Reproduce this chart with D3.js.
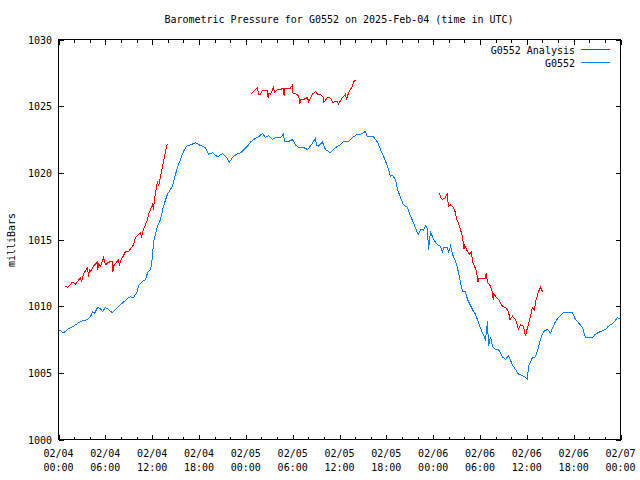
<!DOCTYPE html>
<html><head><meta charset="utf-8">
<script src="https://cdn.jsdelivr.net/npm/d3@7"></script>
<style>body{margin:0;background:#fff}svg text{font-family:"DejaVu Sans Mono","Liberation Mono",monospace;font-size:10px;fill:#000}</style>
</head><body><svg id="c" width="640" height="480"></svg>
<script>
const title = "Barometric Pressure for G0552 on 2025-Feb-04 (time in UTC)";
const yLabel = "milliBars";
const seriesNames = ["G0552 Analysis", "G0552"];
const yTicks = [1000, 1005, 1010, 1015, 1020, 1025, 1030];
const startTime = "2025-02-04T00:00:00Z";
// hours since start, pressure (mb)
const stationHours = [0,0.38,0.64,1.28,1.92,2.82,3.72,4.1,4.36,4.61,5.0,5.38,5.64,6.02,6.4,6.92,7.3,7.69,8.33,8.97,9.22,9.61,10.12,10.25,10.76,11.15,11.4,11.79,12.04,12.17,12.43,12.68,13.07,13.45,13.96,14.35,14.6,14.99,15.37,15.63,16.01,16.4,16.91,17.55,18.19,18.83,19.22,19.73,20.37,21.01,21.52,21.9,22.29,22.8,23.32,23.83,24.21,24.6,24.98,25.62,26.13,26.52,26.9,27.41,27.8,28.44,28.82,28.95,29.47,29.98,30.36,30.75,31.39,31.9,32.28,32.67,32.92,33.05,33.31,33.82,34.2,34.85,35.23,35.74,36.13,36.51,37.15,37.79,38.3,38.69,39.33,39.58,40.35,40.87,41.25,41.64,42.15,42.53,42.79,43.17,43.43,43.81,44.2,44.71,45.09,45.48,45.99,46.12,46.38,46.76,47.02,47.27,47.4,47.66,48.04,48.55,48.94,49.19,49.32,49.83,49.96,50.22,50.47,50.86,51.11,51.24,51.5,51.75,52.14,52.4,52.78,53.17,53.42,53.81,54.32,54.7,54.96,55.09,55.34,55.6,55.98,56.37,56.88,57.26,57.65,58.16,58.55,58.93,59.44,59.83,60.08,60.21,60.72,61.11,61.49,61.75,62.13,62.64,63.03,63.67,64.05,64.69,65.33,65.85,66.23,66.62,67.13,67.51,67.9,68.41,68.79,69.43,70.07,70.46,71.1,71.61,72.0];
const stationValues = [1008.25,1008.1,1008.0,1008.3,1008.5,1008.85,1009.0,1009.2,1009.6,1009.45,1009.9,1009.8,1009.6,1009.9,1009.75,1009.5,1009.75,1010.0,1010.3,1010.65,1010.7,1010.65,1011.1,1011.55,1011.85,1012.0,1012.5,1012.75,1013.65,1014.8,1015.45,1016.0,1016.5,1017.5,1018.4,1018.75,1019.0,1019.9,1020.6,1021.0,1021.6,1022.0,1022.1,1022.25,1022.05,1021.9,1021.4,1021.5,1021.2,1021.45,1021.15,1020.8,1021.15,1021.4,1021.5,1021.8,1022.0,1022.3,1022.5,1022.7,1022.95,1022.65,1022.8,1022.5,1022.65,1022.65,1022.9,1022.35,1022.35,1022.5,1022.1,1021.9,1021.9,1021.75,1022.0,1022.35,1022.6,1022.05,1022.0,1022.3,1021.75,1021.5,1021.75,1022.0,1022.1,1022.35,1022.35,1022.7,1022.9,1022.9,1023.1,1022.7,1022.7,1022.3,1021.75,1021.25,1020.5,1019.75,1019.8,1019.5,1018.75,1018.15,1017.6,1017.4,1016.75,1016.25,1015.5,1015.4,1015.75,1015.7,1016.0,1015.85,1014.25,1015.6,1015.0,1014.6,1014.5,1014.0,1014.4,1014.4,1014.0,1014.5,1013.9,1013.35,1012.9,1012.5,1011.8,1011.1,1011.1,1010.5,1010.05,1009.6,1009.4,1008.75,1008.0,1007.5,1008.85,1007.0,1007.7,1007.0,1006.75,1006.75,1006.2,1006.0,1006.3,1005.6,1005.25,1004.9,1004.8,1004.65,1004.5,1005.5,1006.15,1006.2,1006.9,1007.5,1008.1,1008.25,1008.0,1008.85,1009.15,1009.5,1009.5,1009.5,1009.0,1008.75,1008.4,1007.65,1007.65,1007.65,1007.9,1008.1,1008.25,1008.5,1008.75,1009.15,1009.0];
// analysis: null separates segments
const analysisHours = [0.9,1.15,1.79,2.18,2.82,2.95,3.07,3.2,3.72,3.84,3.97,4.1,4.48,4.99,5.05,5.12,5.38,5.76,6.02,6.41,6.92,6.98,7.05,7.69,7.81,7.94,8.2,8.58,8.97,9.61,9.86,10.5,10.63,10.89,11.4,11.53,11.79,12.04,12.17,12.3,12.43,12.68,12.81,13.07,13.45,13.71,13.96,
 null,
 24.72,24.98,25.24,25.49,25.62,25.88,26.13,26.77,26.85,26.9,27.16,27.54,27.67,28.06,28.44,28.82,28.9,28.95,29.72,29.98,30.05,30.62,30.87,30.93,31.0,31.39,31.9,32.03,32.54,32.92,33.18,33.56,33.95,34.0,34.46,34.85,35.1,35.74,35.87,36.38,36.77,36.9,37.15,37.66,37.79,38.05,
 null,
 48.81,48.94,49.19,49.58,49.83,49.9,49.96,50.22,50.6,50.86,50.99,51.24,51.5,51.75,51.88,51.95,52.01,52.4,52.65,52.91,53.04,53.3,53.55,53.68,53.75,53.81,54.71,54.78,54.96,55.35,55.6,55.68,55.76,56.37,56.88,57.26,57.65,57.83,58.16,58.55,58.8,58.9,59.19,59.57,59.83,60.08,60.21,60.72,60.97,61.11,61.49,61.75,62.0,62.13];
const analysisValues = [1011.5,1011.4,1011.8,1011.65,1012.15,1011.8,1012.15,1012.4,1012.9,1012.2,1012.7,1012.6,1013.0,1013.3,1012.75,1013.2,1013.0,1013.65,1013.1,1013.3,1013.35,1012.6,1013.0,1013.5,1013.0,1013.4,1013.65,1014.1,1014.1,1014.6,1015.15,1015.5,1015.15,1015.75,1016.5,1016.9,1017.25,1017.6,1017.25,1018.0,1018.5,1019.35,1019.0,1019.75,1020.8,1021.6,1022.2,
 null,
 1025.95,1026.1,1026.25,1026.4,1025.9,1025.9,1026.2,1026.2,1025.65,1025.95,1025.9,1026.4,1026.05,1026.25,1026.25,1026.35,1025.8,1026.35,1026.35,1026.6,1025.95,1025.9,1025.5,1025.2,1025.5,1025.5,1025.65,1025.35,1025.9,1026.1,1025.9,1025.9,1025.65,1025.3,1025.65,1025.6,1025.3,1025.35,1025.15,1025.65,1025.9,1025.45,1026.0,1026.5,1026.8,1026.95,
 null,
 1018.5,1018.15,1018.0,1018.15,1018.5,1017.85,1017.5,1017.6,1017.4,1017.0,1016.5,1016.25,1015.75,1015.2,1014.6,1014.3,1014.6,1014.1,1013.9,1014.05,1013.35,1013.0,1012.6,1012.15,1011.8,1012.1,1012.1,1012.5,1011.8,1011.5,1011.0,1010.5,1010.9,1010.5,1010.0,1009.9,1009.6,1009.0,1009.25,1009.0,1008.6,1008.25,1008.6,1008.5,1007.75,1008.4,1008.6,1009.9,1009.7,1010.3,1011.1,1011.4,1011.1,1011.25];

const t0 = new Date(startTime);
const toDate = h => new Date(t0.getTime() + h * 3600e3);
const L = 58.5, R = 620.5, T = 39.5, B = 439.5;
const svg = d3.select("#c");
const x = d3.scaleUtc().domain([t0, toDate(72)]).range([L, R]);
const y = d3.scaleLinear().domain([1000, 1030]).range([B, T]);

svg.append("text").attr("x", 339).attr("y", 23).attr("text-anchor", "middle").text(title);

// ticks
const majors = d3.utcHour.every(6).range(t0, toDate(72.01));
const minors = d3.utcHour.every(2).range(t0, toDate(72.01));
const tk = svg.append("g").attr("stroke", "#000").attr("shape-rendering", "crispEdges");
minors.forEach(d => {
  const isMajor = d.getUTCHours() % 6 === 0;
  const len = isMajor ? 5 : 3;
  const xx = Math.round(x(d)) + 0.5;
  tk.append("line").attr("x1", xx).attr("x2", xx).attr("y1", B).attr("y2", B - len);
  tk.append("line").attr("x1", xx).attr("x2", xx).attr("y1", T).attr("y2", T + len);
});
yTicks.forEach(v => {
  const yy = Math.round(y(v)) + 0.5;
  tk.append("line").attr("x1", L).attr("x2", L + 5).attr("y1", yy).attr("y2", yy);
  tk.append("line").attr("x1", R).attr("x2", R - 5).attr("y1", yy).attr("y2", yy);
});
const fmtD = d3.utcFormat("%m/%d"), fmtT = d3.utcFormat("%H:%M");
majors.forEach(d => {
  const g = svg.append("text").attr("text-anchor", "middle");
  g.append("tspan").attr("x", x(d)).attr("y", 457).text(fmtD(d));
  g.append("tspan").attr("x", x(d)).attr("y", 471).text(fmtT(d));
});
yTicks.forEach(v => {
  svg.append("text").attr("x", 52).attr("y", y(v) + 4).attr("text-anchor", "end").text(v);
});
svg.append("text").attr("transform", "translate(15,240) rotate(-90)").attr("text-anchor", "middle").text(yLabel);

// series
const station = stationHours.map((h, i) => ({t: toDate(h), v: stationValues[i]}));
const analysis = analysisHours.map((h, i) => h === null ? null : ({t: toDate(h), v: analysisValues[i]}));
const line = d3.line().defined(d => d !== null).x(d => x(d.t)).y(d => y(d.v));
svg.append("path").datum(analysis).attr("d", line).attr("fill", "none").attr("stroke", "#ff0000")
  .attr("stroke-width", 1).attr("shape-rendering", "crispEdges");
svg.append("path").datum(station).attr("d", line).attr("fill", "none").attr("stroke", "#0080ff")
  .attr("stroke-width", 1).attr("shape-rendering", "crispEdges");

// border
svg.append("rect").attr("x", L).attr("y", T).attr("width", R - L).attr("height", B - T)
  .attr("fill", "none").attr("stroke", "#000").attr("shape-rendering", "crispEdges");

// legend
const colors = ["#ff0000", "#0080ff"];
seriesNames.forEach((n, i) => {
  const ly = 49.5 + i * 13;
  svg.append("text").attr("x", 575).attr("y", ly + 4).attr("text-anchor", "end").text(n);
  svg.append("line").attr("x1", 581).attr("x2", 610).attr("y1", ly).attr("y2", ly)
    .attr("stroke", colors[i]).attr("shape-rendering", "crispEdges");
});
</script></body></html>
